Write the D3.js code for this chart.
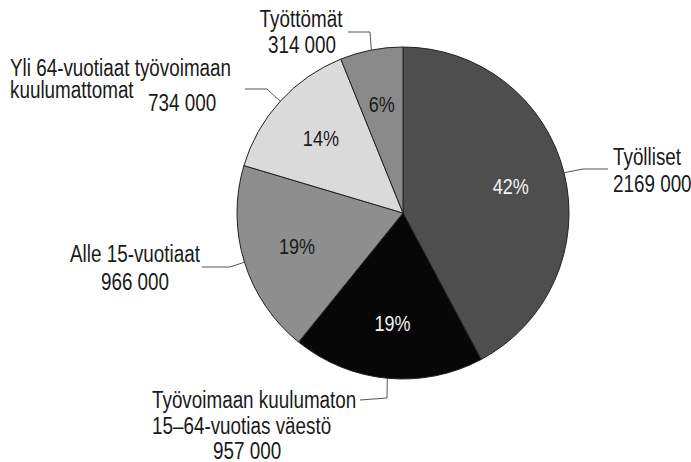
<!DOCTYPE html>
<html>
<head>
<meta charset="utf-8">
<script src="https://cdn.jsdelivr.net/npm/d3@7"></script>
<style>
	body { margin: 0; background: #fff; }
	svg { display: block; }
	text { font-family: "Liberation Sans", Arial, sans-serif; fill: #1a1a1a; }
</style>
</head>
<body>
<div class="graphic"></div>
<script>
// slices clockwise from 12 o'clock
const keys = ['tyolliset', 'ulkopuoliset', 'alle15', 'yli64', 'tyottomat']
const names = [
	['Työlliset'],
	['Työvoimaan kuulumaton', '15–64-vuotias väestö'],
	['Alle 15-vuotiaat'],
	['Yli 64-vuotiaat työvoimaan', 'kuulumattomat'],
	['Työttömät'],
]
const values = [2169000, 957000, 966000, 734000, 314000]
const percents = ['42%', '19%', '19%', '14%', '6%']

const width = 691
const height = 462
const center = { x: 403, y: 213 }
const radius = 166
const narrow = 0.82 // no condensed face installed, squeeze horizontally

const fills = {
	tyolliset: '#4e4e4e',
	ulkopuoliset: '#070707',
	alle15: '#8e8e8e',
	yli64: '#dadada',
	tyottomat: '#8a8a8a',
}
const pctColor = { tyolliset: '#f2f2f2', ulkopuoliset: '#f2f2f2' }

// hand placed label boxes: leader elbow/end and text lines
const layout = {
	tyolliset: { elbow: [583, 169], end: [608, 169], anchor: 'start', lines: [[613, 165], [613, 192]] },
	ulkopuoliset: { elbow: [387, 398], end: [360, 400], anchor: 'start', lines: [[152, 408], [152, 434], [213, 459]] },
	alle15: { elbow: [230, 267], end: [202, 267], anchor: 'middle', lines: [[135, 262], [135, 290]] },
	yli64: { elbow: [267, 89], end: [245, 89], anchor: 'start', lines: [[10, 76], [10, 98], [148, 111]] },
	tyottomat: { elbow: [370, 32], end: [348, 32], anchor: 'middle', lines: [[301, 27], [302, 53]] },
}

// "2169 000" style: only the last three digits split off
const fmt = v => `${Math.floor(v / 1000)} ${String(v % 1000).padStart(3, '0')}`

const data = keys.map((k, i) => ({ key: k, names: names[i], value: values[i], pct: percents[i] }))

const svg = d3.select('.graphic').append('svg')
	.attr('width', width)
	.attr('height', height)

const pie = d3.pie().value(d => d.value).sort(null)
const arc = d3.arc().innerRadius(0).outerRadius(radius)
const labelArc = d3.arc().innerRadius(111).outerRadius(111)
const edgeArc = d3.arc().innerRadius(radius).outerRadius(radius)

const arcs = pie(data)

const g = svg.append('g')
	.attr('transform', `translate(${center.x},${center.y})`)

g.selectAll('path.slice')
	.data(arcs)
	.enter().append('path')
		.attr('class', 'slice')
		.attr('d', arc)
		.attr('fill', d => fills[d.data.key])
		.attr('stroke', '#222')
		.attr('stroke-width', 1)

g.selectAll('text.pct')
	.data(arcs)
	.enter().append('text')
		.attr('class', 'pct')
		.attr('transform', d => `translate(${labelArc.centroid(d)}) scale(${narrow},1)`)
		.attr('text-anchor', 'middle')
		.attr('dy', '0.36em')
		.style('font-size', '22px')
		.style('fill', d => pctColor[d.data.key] || '#1a1a1a')
		.text(d => d.data.pct)

// leaders
svg.selectAll('polyline.leader')
	.data(arcs)
	.enter().append('polyline')
		.attr('class', 'leader')
		.attr('fill', 'none')
		.attr('stroke', '#555')
		.attr('stroke-width', 1)
		.attr('points', d => {
			const p = edgeArc.centroid(d)
			const l = layout[d.data.key]
			return [[p[0] + center.x, p[1] + center.y], l.elbow, l.end].map(q => q.join(',')).join(' ')
		})

// outer labels
arcs.forEach(d => {
	const l = layout[d.data.key]
	const lines = d.data.names.concat([fmt(d.data.value)])
	lines.forEach((t, i) => {
		svg.append('text')
			.attr('transform', `translate(${l.lines[i][0]},${l.lines[i][1]}) scale(${narrow},1)`)
			.attr('text-anchor', l.anchor)
			.style('font-size', '23px')
			.text(t)
	})
})
</script>
</body>
</html>
